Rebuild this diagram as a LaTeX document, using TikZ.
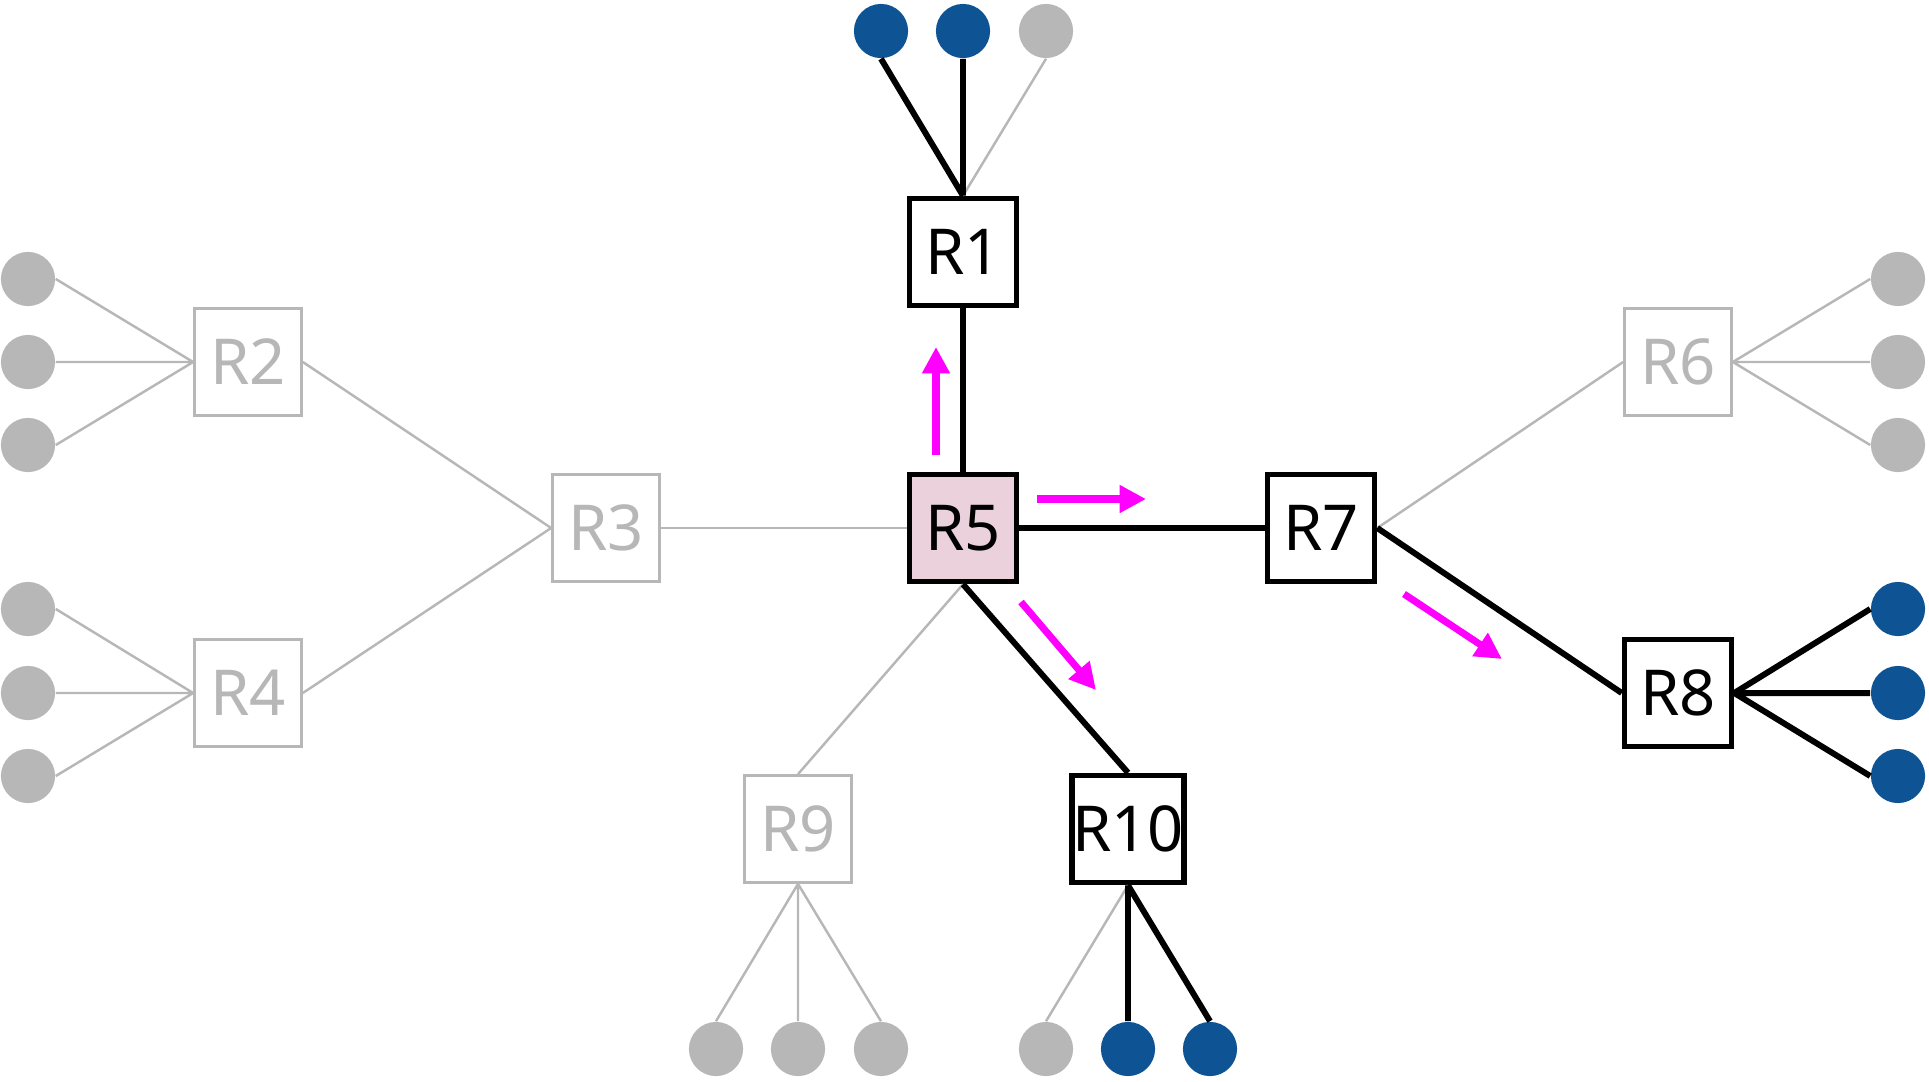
\documentclass[tikz,border=0pt]{standalone}
\usepackage{fontspec}
\setmainfont{Noto Sans}
\usetikzlibrary{arrows.meta}
\definecolor{hostgray}{HTML}{B7B7B7}
\definecolor{hostblue}{HTML}{0E5394}
\definecolor{rootpink}{HTML}{EAD1DC}
\definecolor{flowpink}{HTML}{FF00FF}

\begin{document}
\begin{tikzpicture}[x=0.01cm,y=-0.01cm,
  router/.style={draw,line width=1.5pt,minimum size=30.5pt,inner sep=0,fill=white,font=\fontsize{18}{20}\selectfont},
  idle/.style={router,draw=hostgray,text=hostgray,line width=0.7pt},
  host/.style={circle,inner sep=0,minimum size=15.4pt,fill=hostgray},
  hit/.style={host,fill=hostblue},
  live/.style={line width=1.7pt},
  dead/.style={line width=0.7pt,draw=hostgray},
  flow/.style={line width=2pt,draw=flowpink,-{Triangle[length=7.5pt,width=7.5pt]}}]
\useasboundingbox(0,0)rectangle(1929,1081);
% routers
\node[router](r1)at(963,252){R1};
\node[idle](r2)at(248,362){R2};
\node[idle](r3)at(606,528){R3};
\node[idle](r4)at(248,693){R4};
\node[router,fill=rootpink](r5)at(963,528){R5};
\node[idle](r6)at(1678,362){R6};
\node[router](r7)at(1321,528){R7};
\node[router](r8)at(1678,693){R8};
\node[idle](r9)at(798,829){R9};
\node[router](r10)at(1128,829){R10};
% hosts
\node[hit](t1)at(881,31){};
\node[hit](t2)at(963,31){};
\node[host](t3)at(1046,31){};
\node[host](a1)at(28,279){};
\node[host](a2)at(28,362){};
\node[host](a3)at(28,445){};
\node[host](b1)at(28,609){};
\node[host](b2)at(28,693){};
\node[host](b3)at(28,776){};
\node[host](c1)at(1898,279){};
\node[host](c2)at(1898,362){};
\node[host](c3)at(1898,445){};
\node[hit](d1)at(1898,609){};
\node[hit](d2)at(1898,693){};
\node[hit](d3)at(1898,776){};
\node[host](e1)at(716,1049){};
\node[host](e2)at(798,1049){};
\node[host](e3)at(881,1049){};
\node[host](f1)at(1046,1049){};
\node[hit](f2)at(1128,1049){};
\node[hit](f3)at(1210,1049){};
% links
\draw[dead](r2.west)--(a1.east) (r2.west)--(a2.east) (r2.west)--(a3.east);
\draw[dead](r4.west)--(b1.east) (r4.west)--(b2.east) (r4.west)--(b3.east);
\draw[dead](r6.east)--(c1.west) (r6.east)--(c2.west) (r6.east)--(c3.west);
\draw[dead](r9.south)--(e1.north) (r9.south)--(e2.north) (r9.south)--(e3.north);
\draw[dead](r2.east)--(r3.west)--(r4.east);
\draw[dead](r3.east)--(r5.west);
\draw[dead](r7.east)--(r6.west);
\draw[dead](r5.south)--(r9.north);
\draw[dead](r1.north)--(t3.south);
\draw[dead](r10.south)--(f1.north);
\draw[live](r1.north)--(t1.south) (r1.north)--(t2.south);
\draw[live](r5.north)--(r1.south);
\draw[live](r5.east)--(r7.west);
\draw[live](r7.east)--(r8.west);
\draw[live](r5.south)--(r10.north);
\draw[live](r8.east)--(d1.west) (r8.east)--(d2.west) (r8.east)--(d3.west);
\draw[live](r10.south)--(f2.north) (r10.south)--(f3.north);
% flow arrows
\coordinate(up0)at(936,455);\coordinate(up1)at(936,347);
\coordinate(rt0)at(1037,499);\coordinate(rt1)at(1146,499);
\coordinate(dn0)at(1021,602);\coordinate(dn1)at(1096,690);
\coordinate(fw0)at(1404,594);\coordinate(fw1)at(1502,659);
\draw[flow](up0)--(up1);
\draw[flow](rt0)--(rt1);
\draw[flow](dn0)--(dn1);
\draw[flow](fw0)--(fw1);
\end{tikzpicture}
\end{document}
